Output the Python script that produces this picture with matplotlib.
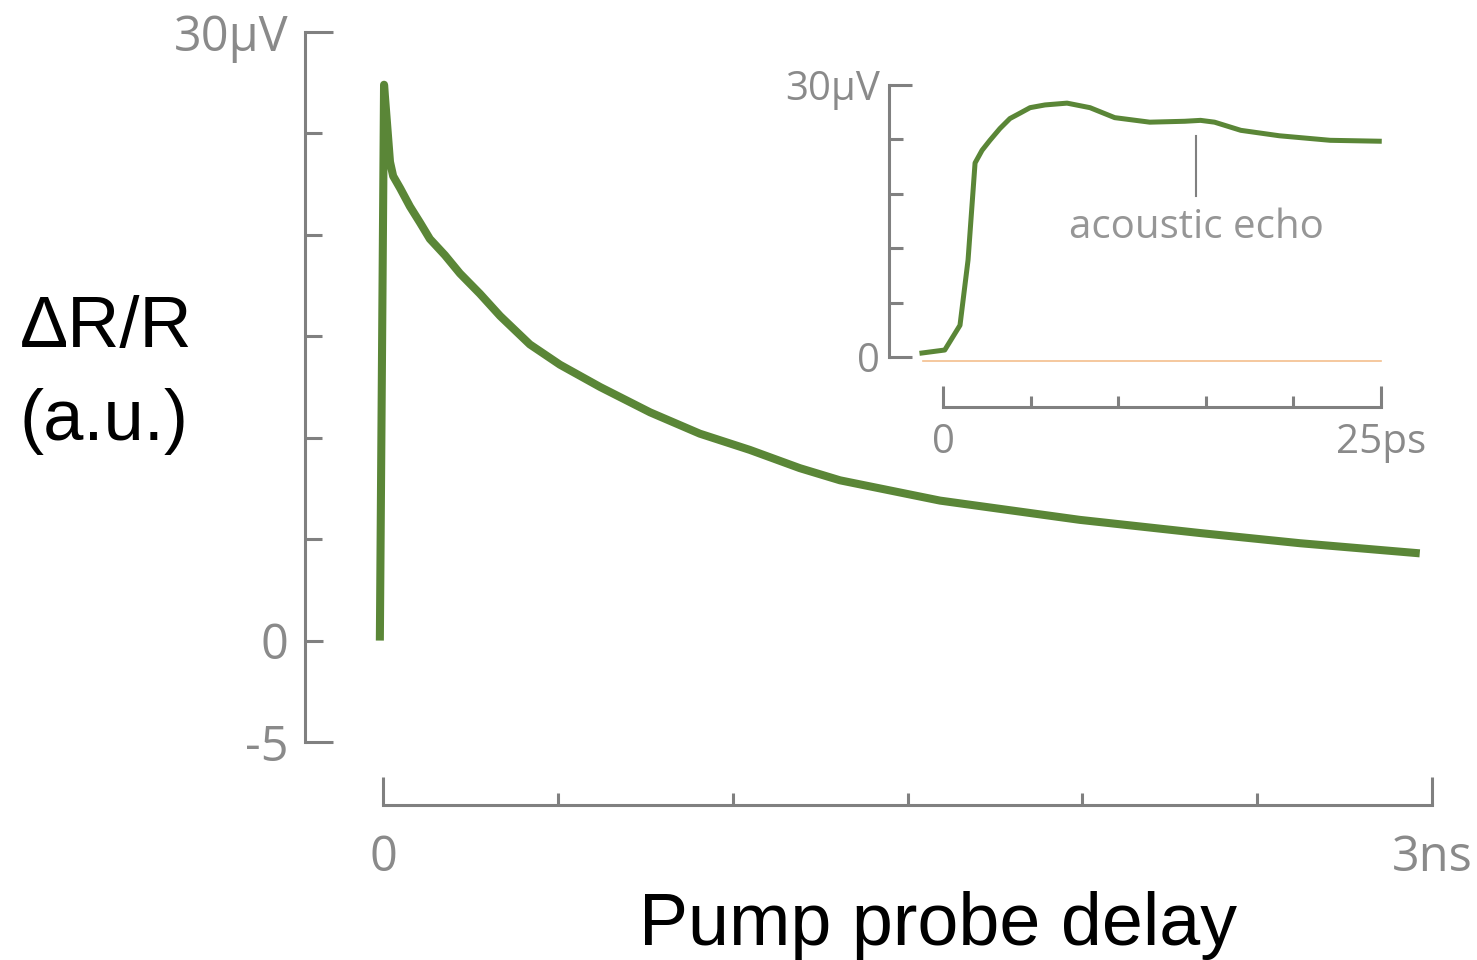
import numpy as np
import matplotlib
matplotlib.use('Agg')
import matplotlib.pyplot as plt

plt.rcParams['font.family'] = ['Open Sans', 'DejaVu Sans']

# main trace: delay (ns) vs signal (uV)
t_main = [-0.009, 0.003, 0.020, 0.029, 0.049, 0.077, 0.106, 0.134, 0.177,
          0.220, 0.277, 0.335, 0.420, 0.506, 0.621, 0.764, 0.906, 1.049,
          1.192, 1.307, 1.593, 1.993, 2.337, 2.622, 2.965]
v_main = [0.0, 27.4, 23.6, 22.9, 22.3, 21.4, 20.6, 19.8, 19.0,
          18.1, 17.1, 16.0, 14.6, 13.6, 12.5, 11.25, 10.2, 9.4,
          8.5, 7.9, 6.9, 5.95, 5.3, 4.8, 4.3]

# inset trace: delay (ps) vs signal (uV)
t_ins = [-1.2, 0.1, 0.97, 1.43, 1.83, 2.23, 2.68, 3.25, 3.82, 4.4, 4.97,
         5.82, 7.08, 8.39, 9.8, 11.8, 13.8, 14.7, 15.5, 17.0, 19.2, 22.1, 24.9]
v_ins = [0.44, 0.77, 3.5, 10.7, 21.4, 22.8, 23.9, 25.2, 26.3, 26.9, 27.5,
         27.8, 28.0, 27.5, 26.4, 25.9, 26.0, 26.1, 25.9, 25.0, 24.4, 23.9, 23.8]
baseline_t = [-1.14, 25.0]
baseline_v = [-0.4, -0.4]
echo_t = 14.45

green = '#5a8637'
gray = '#808080'
lab = '#8a8a8a'

fig = plt.figure(figsize=(14.77, 9.6), dpi=100)

# ---- main axes
ax = fig.add_axes([383/1477, 218/960, 1049/1477, 710/960])
ax.plot(t_main, v_main, color=green, lw=5.8, solid_capstyle='butt',
        solid_joinstyle='round', clip_on=False)
ax.set_xlim(0, 3)
ax.set_ylim(-5, 30)
for s in ['top', 'right']:
    ax.spines[s].set_visible(False)
ax.spines['left'].set_position(('outward', 56))
ax.spines['bottom'].set_position(('outward', 45))
ax.spines['left'].set_bounds(-5, 30)
ax.spines['bottom'].set_bounds(0, 3)
for s in ['left', 'bottom']:
    ax.spines[s].set_color(gray)
    ax.spines[s].set_linewidth(2.2)

ax.set_yticks([-5, 0, 30])
ax.set_yticklabels(['-5', '0', '30µV'])
ax.set_yticks([5, 10, 15, 20, 25], minor=True)
ax.set_xticks([0, 3])
ax.set_xticklabels(['0', '3ns'])
ax.set_xticks([0.5, 1.0, 1.5, 2.0, 2.5], minor=True)
ax.tick_params(axis='y', which='major', direction='in', length=13, width=2.2,
               color=gray, labelcolor=lab, labelsize=35, pad=12)
ax.tick_params(axis='y', which='minor', direction='in', length=12, width=2.2,
               color=gray)
ax.tick_params(axis='x', which='major', direction='in', length=20, width=2.2,
               color=gray, labelcolor=lab, labelsize=35, pad=21)
ax.tick_params(axis='x', which='minor', direction='in', length=8.6, width=2.2,
               color=gray)
yt = ax.yaxis.get_major_ticks()
for i in [0, 2]:
    yt[i].tick1line.set_markersize(20)

# ---- inset axes
ai = fig.add_axes([943/1477, 603/960, 438/1477, 272/960])
ai.plot(baseline_t, baseline_v, color='#f3bf8e', lw=1.2, clip_on=False)
ai.plot(t_ins, v_ins, color=green, lw=3.6, solid_joinstyle='round',
        clip_on=False)
ai.set_xlim(0, 25)
ai.set_ylim(0, 30)
ai.patch.set_alpha(0)
for s in ['top', 'right']:
    ai.spines[s].set_visible(False)
ai.spines['left'].set_position(('outward', 39))
ai.spines['bottom'].set_position(('outward', 36))
ai.spines['left'].set_bounds(0, 30)
ai.spines['bottom'].set_bounds(0, 25)
for s in ['left', 'bottom']:
    ai.spines[s].set_color(gray)
    ai.spines[s].set_linewidth(2.2)

ai.set_yticks([0, 30])
ai.set_yticklabels(['0', '30µV'])
ai.set_yticks([6, 12, 18, 24], minor=True)
ai.set_xticks([0, 25])
ai.set_xticklabels(['0', '25ps'])
ai.set_xticks([5, 10, 15, 20], minor=True)
ai.tick_params(axis='y', which='major', direction='in', length=16.5, width=2.2,
               color=gray, labelcolor=lab, labelsize=29, pad=6.5)
ai.tick_params(axis='y', which='minor', direction='in', length=10, width=2.2,
               color=gray)
ai.tick_params(axis='x', which='major', direction='in', length=15, width=2.2,
               color=gray, labelcolor=lab, labelsize=29, pad=11.5)
ai.tick_params(axis='x', which='minor', direction='in', length=8, width=2.2,
               color=gray)

ai.plot([echo_t, echo_t], [24.4, 17.75], color=gray, lw=1.5)
ai.text(echo_t, 14.3, 'acoustic echo', color='#969696', fontsize=29,
        ha='center', va='center')

# ---- labels
fig.text(20/1477, 0.6385, 'ΔR/R', fontsize=52, family='Liberation Sans',
         ha='left', va='baseline', color='black')
fig.text(20/1477, 0.5417, '(a.u.)', fontsize=52, family='Liberation Sans',
         ha='left', va='baseline', color='black')
fig.text(938/1477, 0.0156, 'Pump probe delay', fontsize=53,
         family='Liberation Sans', ha='center', va='baseline', color='black')

fig.savefig('out.png', dpi=100)
